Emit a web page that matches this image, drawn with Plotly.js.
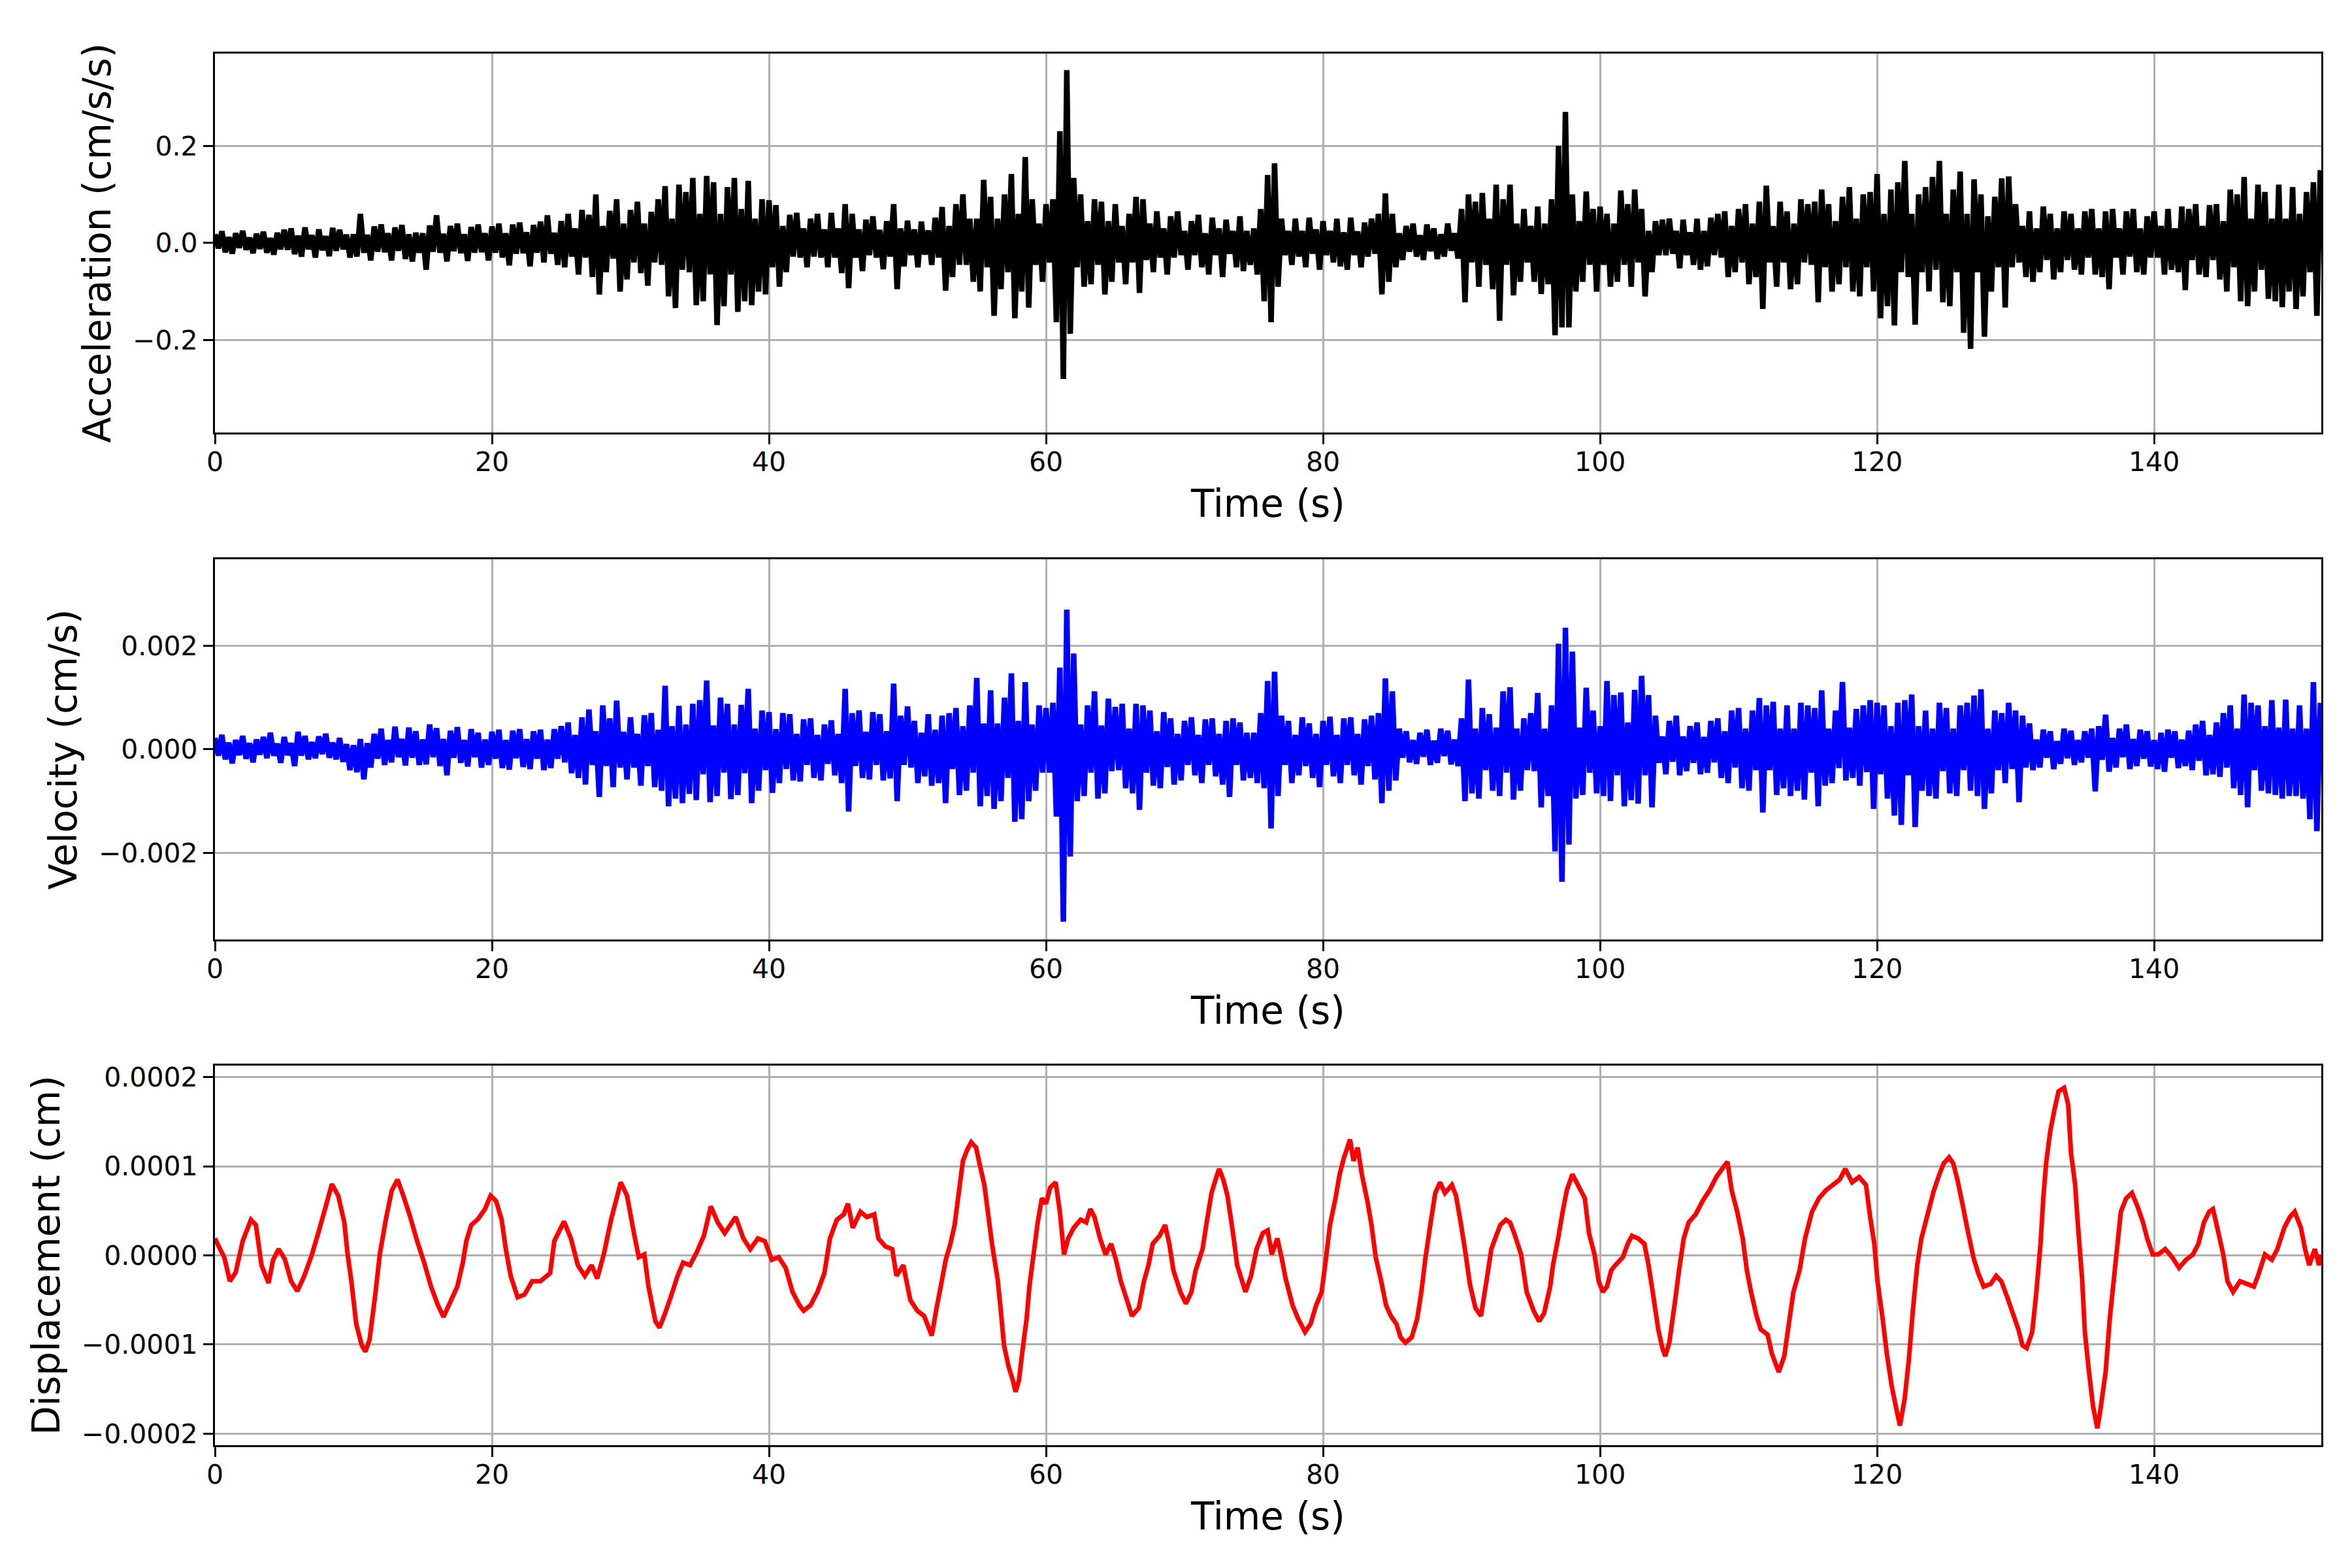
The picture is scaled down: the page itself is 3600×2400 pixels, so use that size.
<!DOCTYPE html>
<html>
<head>
<meta charset="utf-8">
<script src="https://cdn.plot.ly/plotly-3.0.1.min.js"></script>
<style>html,body{margin:0;padding:0;background:#fff;}#chart{width:3600px;height:2400px;}</style>
</head>
<body>
<div id="chart"></div>
<script>
// ---------------- data ----------------
// Sampling interval of the listed acceleration / velocity extremes (s)
const sampleStep = 0.25;

// Acceleration (cm/s/s): alternating local peaks / troughs every 0.25 s
const accelerationValues = [
0.018,-0.011,0.024,-0.019,0.012,-0.022,0.02,-0.01,0.025,-0.014,0.011,-0.021,0.019,-0.012,0.023,-0.02,0.01,-0.024,0.021,-0.013,
0.027,-0.014,0.03,-0.023,0.015,-0.028,0.032,-0.013,0.016,-0.03,0.028,-0.015,0.014,-0.027,0.031,-0.016,0.027,-0.013,0.017,-0.03,
0.018,-0.028,0.06,-0.02,0.017,-0.036,0.034,-0.018,0.038,-0.019,0.02,-0.036,0.032,-0.016,0.037,-0.033,0.018,-0.038,0.021,-0.02,
0.02,-0.055,0.036,-0.018,0.057,-0.02,0.019,-0.038,0.035,-0.017,0.04,-0.021,0.018,-0.037,0.033,-0.02,0.038,-0.019,0.02,-0.036,
0.034,-0.02,0.04,-0.03,0.02,-0.046,0.038,-0.022,0.042,-0.021,0.022,-0.048,0.037,-0.02,0.044,-0.04,0.057,-0.022,0.021,-0.045,
0.045,-0.05,0.06,-0.028,0.03,-0.065,0.068,-0.03,0.058,-0.07,0.1,-0.106,0.035,-0.06,0.066,-0.032,0.09,-0.1,0.04,-0.075,
0.068,-0.04,0.085,-0.062,0.04,-0.088,0.064,-0.04,0.09,-0.045,0.117,-0.11,0.05,-0.134,0.12,-0.055,0.105,-0.06,0.134,-0.128,
0.06,-0.12,0.138,-0.065,0.125,-0.169,0.06,-0.13,0.115,-0.065,0.134,-0.142,0.07,-0.12,0.128,-0.128,0.05,-0.1,0.09,-0.106,
0.088,-0.05,0.078,-0.09,0.035,-0.06,0.058,-0.028,0.062,-0.03,0.03,-0.05,0.05,-0.028,0.06,-0.03,0.028,-0.05,0.062,-0.03,
0.03,-0.062,0.08,-0.093,0.06,-0.03,0.028,-0.058,0.048,-0.025,0.055,-0.03,0.027,-0.054,0.045,-0.028,0.08,-0.095,0.03,-0.048,
0.046,-0.025,0.028,-0.05,0.044,-0.024,0.026,-0.045,0.052,-0.03,0.074,-0.098,0.035,-0.07,0.08,-0.045,0.1,-0.045,0.05,-0.08,
0.05,-0.1,0.13,-0.05,0.095,-0.15,0.05,-0.095,0.1,-0.06,0.142,-0.155,0.06,-0.1,0.177,-0.133,0.09,-0.045,0.04,-0.08,
0.08,-0.04,0.09,-0.163,0.23,-0.28,0.356,-0.187,0.134,-0.05,0.1,-0.09,0.045,-0.085,0.09,-0.045,0.085,-0.106,0.045,-0.08,
0.08,-0.04,0.035,-0.085,0.06,-0.04,0.095,-0.103,0.09,-0.035,0.04,-0.06,0.065,-0.03,0.03,-0.065,0.055,-0.03,0.065,-0.025,
0.025,-0.055,0.045,-0.025,0.058,-0.05,0.02,-0.065,0.052,-0.025,0.03,-0.07,0.048,-0.022,0.025,-0.05,0.055,-0.058,0.025,-0.045,
0.03,-0.065,0.07,-0.12,0.14,-0.163,0.164,-0.09,0.05,-0.025,0.025,-0.045,0.05,-0.028,0.025,-0.05,0.052,-0.022,0.028,-0.055,
0.045,-0.025,0.025,-0.04,0.05,-0.048,0.022,-0.055,0.052,-0.025,0.024,-0.05,0.042,-0.028,0.05,-0.022,0.06,-0.106,0.102,-0.08,
0.06,-0.05,0.02,-0.035,0.035,-0.018,0.04,-0.028,0.016,-0.035,0.038,-0.017,0.03,-0.033,0.018,-0.028,0.04,-0.016,0.02,-0.032,
0.07,-0.122,0.1,-0.04,0.085,-0.09,0.103,-0.045,0.05,-0.095,0.12,-0.16,0.09,-0.045,0.12,-0.108,0.04,-0.08,0.07,-0.04,
0.035,-0.08,0.075,-0.105,0.04,-0.085,0.09,-0.19,0.2,-0.174,0.27,-0.174,0.1,-0.1,0.045,-0.08,0.106,-0.045,0.07,-0.1,
0.075,-0.045,0.06,-0.09,0.04,-0.08,0.108,-0.045,0.08,-0.09,0.11,-0.04,0.07,-0.11,0.025,-0.06,0.045,-0.025,0.048,-0.025,
0.05,-0.022,0.025,-0.052,0.048,-0.025,0.022,-0.045,0.05,-0.055,0.025,-0.048,0.052,-0.025,0.06,-0.03,0.065,-0.07,0.035,-0.06,
0.07,-0.04,0.08,-0.085,0.04,-0.07,0.085,-0.136,0.118,-0.04,0.035,-0.09,0.085,-0.04,0.065,-0.095,0.04,-0.085,0.09,-0.04,
0.08,-0.045,0.085,-0.122,0.11,-0.05,0.08,-0.1,0.045,-0.085,0.095,-0.05,0.115,-0.1,0.05,-0.11,0.1,-0.05,0.105,-0.1,
0.142,-0.155,0.06,-0.13,0.11,-0.17,0.125,-0.06,0.169,-0.07,0.06,-0.168,0.1,-0.06,0.115,-0.1,0.136,-0.055,0.169,-0.122,
0.06,-0.13,0.11,-0.06,0.147,-0.185,0.06,-0.218,0.131,-0.06,0.1,-0.193,0.055,-0.1,0.095,-0.05,0.133,-0.133,0.137,-0.05,
0.08,-0.04,0.035,-0.07,0.065,-0.08,0.03,-0.06,0.075,-0.035,0.06,-0.075,0.03,-0.06,0.065,-0.035,0.06,-0.055,0.03,-0.065,
0.065,-0.03,0.07,-0.065,0.03,-0.07,0.065,-0.095,0.07,-0.03,0.03,-0.065,0.065,-0.028,0.07,-0.06,0.03,-0.065,0.055,-0.03,
0.065,-0.03,0.035,-0.065,0.07,-0.055,0.03,-0.06,0.075,-0.097,0.07,-0.035,0.08,-0.065,0.035,-0.07,0.078,-0.035,0.08,-0.075,
0.045,-0.1,0.11,-0.05,0.1,-0.12,0.136,-0.13,0.05,-0.1,0.12,-0.055,0.105,-0.115,0.05,-0.12,0.12,-0.132,0.05,-0.1,
0.115,-0.136,0.06,-0.11,0.105,-0.06,0.125,-0.15,0.15
];

// Velocity (cm/s): alternating local peaks / troughs every 0.25 s
const velocityValues = [
2.2e-4,-1.2e-4,2.8e-4,-1.9e-4,1.3e-4,-2.7e-4,1.8e-4,-1.1e-4,2.6e-4,-1.8e-4,1.2e-4,-2.5e-4,1.9e-4,-1.0e-4,2.4e-4,-1.7e-4,3.2e-4,-1.2e-4,1.1e-4,-2.6e-4,
2.4e-4,-1.1e-4,1.2e-4,-3.2e-4,3.4e-4,-1.2e-4,2.6e-4,-1.9e-4,1.4e-4,-1.7e-4,2.5e-4,-0.9e-4,3.0e-4,-1.6e-4,1.3e-4,-1.9e-4,2.2e-4,-2.4e-4,1.0e-4,-4.0e-4,
0.8e-4,-4.4e-4,2.0e-4,-5.8e-4,1.2e-4,-3.5e-4,3.0e-4,-1.8e-4,4.0e-4,-3.0e-4,1.8e-4,-2.5e-4,4.4e-4,-1.5e-4,2.0e-4,-3.1e-4,4.2e-4,-1.6e-4,3.5e-4,-3.0e-4,
1.9e-4,-2.9e-4,4.8e-4,-1.5e-4,4.1e-4,-3.2e-4,2.0e-4,-5.0e-4,3.6e-4,-1.6e-4,4.3e-4,-2.6e-4,1.8e-4,-3.3e-4,3.9e-4,-1.5e-4,3.2e-4,-3.5e-4,1.9e-4,-3.0e-4,
3.4e-4,-1.8e-4,3.8e-4,-3.6e-4,1.8e-4,-3.9e-4,3.6e-4,-1.7e-4,3.9e-4,-3.4e-4,2.0e-4,-3.8e-4,3.5e-4,-1.8e-4,3.8e-4,-4.0e-4,1.9e-4,-3.6e-4,3.9e-4,-1.8e-4,
4.5e-4,-2.5e-4,5.2e-4,-4.6e-4,2.8e-4,-5.5e-4,6.2e-4,-6.8e-4,7.7e-4,-3.0e-4,3.5e-4,-9.2e-4,8.5e-4,-3.2e-4,6.0e-4,-7.3e-4,9.4e-4,-3.5e-4,3.4e-4,-5.8e-4,
6.2e-4,-3.5e-4,3.0e-4,-7.0e-4,6.6e-4,-3.2e-4,7.0e-4,-7.3e-4,3.8e-4,-8.0e-4,12.3e-4,-11.0e-4,4.5e-4,-9.5e-4,8.4e-4,-10.4e-4,4.8e-4,-8.6e-4,8.8e-4,-9.8e-4,
9.5e-4,-4.8e-4,13.3e-4,-10.2e-4,4.6e-4,-9.0e-4,10.0e-4,-4.5e-4,8.8e-4,-9.6e-4,4.8e-4,-8.8e-4,8.6e-4,-4.6e-4,11.7e-4,-10.4e-4,4.0e-4,-8.0e-4,7.5e-4,-4.0e-4,
7.2e-4,-8.4e-4,3.9e-4,-6.5e-4,7.0e-4,-3.8e-4,6.8e-4,-6.0e-4,3.0e-4,-6.2e-4,5.8e-4,-3.0e-4,6.0e-4,-5.5e-4,2.8e-4,-6.0e-4,4.8e-4,-2.8e-4,5.6e-4,-5.0e-4,
3.0e-4,-6.5e-4,11.7e-4,-12.0e-4,7.0e-4,-3.2e-4,7.5e-4,-5.5e-4,3.4e-4,-5.8e-4,7.2e-4,-3.0e-4,6.8e-4,-6.0e-4,3.5e-4,-5.6e-4,12.7e-4,-10.0e-4,6.5e-4,-3.0e-4,
8.3e-4,-3.5e-4,5.5e-4,-6.5e-4,3.2e-4,-5.2e-4,6.8e-4,-7.0e-4,3.8e-4,-6.5e-4,6.5e-4,-10.4e-4,7.0e-4,-3.8e-4,8.0e-4,-8.8e-4,4.5e-4,-8.0e-4,8.5e-4,-4.5e-4,
13.8e-4,-11.0e-4,5.0e-4,-9.0e-4,11.4e-4,-11.5e-4,5.0e-4,-10.0e-4,10.0e-4,-5.5e-4,14.7e-4,-14.0e-4,5.5e-4,-13.5e-4,13.0e-4,-10.0e-4,4.8e-4,-8.0e-4,8.5e-4,-4.5e-4,
8.0e-4,-4.5e-4,9.0e-4,-13.0e-4,15.8e-4,-33.3e-4,27.0e-4,-20.7e-4,18.5e-4,-10.0e-4,4.8e-4,-9.0e-4,8.5e-4,-4.5e-4,11.2e-4,-9.5e-4,4.6e-4,-8.5e-4,9.8e-4,-4.2e-4,
8.2e-4,-4.0e-4,8.8e-4,-7.5e-4,4.0e-4,-8.5e-4,8.8e-4,-11.7e-4,8.5e-4,-4.5e-4,7.5e-4,-7.0e-4,3.5e-4,-7.5e-4,7.2e-4,-3.4e-4,6.0e-4,-6.8e-4,3.0e-4,-6.0e-4,
5.5e-4,-3.0e-4,6.2e-4,-5.0e-4,2.8e-4,-6.5e-4,5.8e-4,-3.0e-4,6.0e-4,-5.2e-4,3.0e-4,-6.8e-4,5.5e-4,-9.2e-4,6.0e-4,-3.0e-4,5.2e-4,-6.0e-4,3.2e-4,-5.5e-4,
3.2e-4,-6.5e-4,7.0e-4,-7.5e-4,13.2e-4,-15.3e-4,15.0e-4,-9.0e-4,6.5e-4,-3.0e-4,5.5e-4,-6.5e-4,2.8e-4,-5.0e-4,6.2e-4,-3.2e-4,5.0e-4,-5.5e-4,3.0e-4,-7.3e-4,
5.5e-4,-3.0e-4,6.3e-4,-5.2e-4,2.8e-4,-6.5e-4,6.0e-4,-3.0e-4,6.2e-4,-5.0e-4,3.0e-4,-6.8e-4,5.8e-4,-3.2e-4,6.5e-4,-5.8e-4,7.0e-4,-10.4e-4,13.7e-4,-8.0e-4,
11.2e-4,-6.0e-4,4.0e-4,-1.6e-4,3.5e-4,-2.5e-4,1.8e-4,-2.8e-4,3.2e-4,-1.4e-4,3.8e-4,-3.0e-4,1.7e-4,-2.6e-4,4.0e-4,-1.3e-4,3.6e-4,-2.9e-4,1.9e-4,-3.2e-4,
6.0e-4,-10.0e-4,13.5e-4,-8.5e-4,4.0e-4,-9.5e-4,8.0e-4,-4.0e-4,6.8e-4,-8.0e-4,4.2e-4,-9.0e-4,11.2e-4,-4.5e-4,12.0e-4,-9.7e-4,4.0e-4,-8.0e-4,6.0e-4,-4.0e-4,
7.0e-4,-4.2e-4,10.9e-4,-11.2e-4,4.0e-4,-9.0e-4,8.5e-4,-19.7e-4,20.4e-4,-25.6e-4,23.5e-4,-18.4e-4,18.9e-4,-9.5e-4,4.2e-4,-8.8e-4,11.9e-4,-4.5e-4,7.5e-4,-8.5e-4,
4.5e-4,-9.0e-4,13.2e-4,-10.0e-4,10.5e-4,-5.0e-4,11.0e-4,-11.0e-4,5.2e-4,-9.8e-4,11.5e-4,-10.5e-4,14.2e-4,-5.0e-4,10.5e-4,-11.2e-4,6.5e-4,-2.6e-4,2.5e-4,-4.8e-4,
5.5e-4,-2.4e-4,6.5e-4,-5.0e-4,2.5e-4,-4.2e-4,4.5e-4,-2.6e-4,5.2e-4,-4.8e-4,2.4e-4,-4.5e-4,5.5e-4,-2.5e-4,6.0e-4,-5.5e-4,3.5e-4,-6.5e-4,7.5e-4,-3.5e-4,
8.0e-4,-7.5e-4,4.0e-4,-8.0e-4,7.5e-4,-4.0e-4,9.9e-4,-12.2e-4,8.5e-4,-4.0e-4,9.2e-4,-8.8e-4,4.0e-4,-7.5e-4,8.5e-4,-9.0e-4,4.0e-4,-8.0e-4,9.0e-4,-9.7e-4,
8.5e-4,-4.5e-4,8.0e-4,-11.0e-4,11.4e-4,-7.0e-4,4.0e-4,-6.5e-4,7.5e-4,-3.6e-4,13.0e-4,-6.0e-4,4.2e-4,-5.5e-4,7.8e-4,-7.0e-4,8.5e-4,-4.4e-4,9.5e-4,-11.5e-4,
9.0e-4,-4.8e-4,8.5e-4,-9.5e-4,4.5e-4,-12.8e-4,9.0e-4,-14.6e-4,9.5e-4,-5.0e-4,10.6e-4,-15.0e-4,4.5e-4,-8.0e-4,7.5e-4,-9.0e-4,4.0e-4,-9.5e-4,9.0e-4,-4.2e-4,
8.0e-4,-8.5e-4,4.0e-4,-9.0e-4,8.5e-4,-4.0e-4,9.0e-4,-8.0e-4,10.4e-4,-9.0e-4,11.6e-4,-11.5e-4,4.0e-4,-8.5e-4,7.5e-4,-4.0e-4,7.0e-4,-6.5e-4,9.0e-4,-3.8e-4,
7.5e-4,-10.2e-4,6.5e-4,-3.5e-4,5.0e-4,-4.0e-4,1.9e-4,-3.5e-4,3.8e-4,-1.6e-4,3.5e-4,-3.8e-4,1.6e-4,-2.8e-4,4.0e-4,-1.7e-4,3.6e-4,-3.0e-4,1.8e-4,-2.5e-4,
3.5e-4,-1.6e-4,4.0e-4,-8.1e-4,4.5e-4,-2.0e-4,6.7e-4,-4.3e-4,2.2e-4,-3.5e-4,4.0e-4,-1.5e-4,4.8e-4,-3.8e-4,2.0e-4,-3.2e-4,3.8e-4,-1.8e-4,3.5e-4,-3.3e-4,
1.8e-4,-3.8e-4,3.2e-4,-4.3e-4,3.8e-4,-1.6e-4,3.5e-4,-3.6e-4,1.9e-4,-3.2e-4,3.6e-4,-4.0e-4,4.8e-4,-2.2e-4,5.5e-4,-5.0e-4,2.8e-4,-4.8e-4,5.2e-4,-5.3e-4,
7.0e-4,-3.5e-4,8.5e-4,-7.5e-4,4.0e-4,-8.8e-4,10.6e-4,-11.2e-4,9.0e-4,-4.0e-4,8.5e-4,-8.0e-4,4.5e-4,-8.5e-4,9.5e-4,-8.8e-4,4.2e-4,-9.5e-4,9.6e-4,-9.0e-4,
4.0e-4,-9.0e-4,8.5e-4,-9.5e-4,4.0e-4,-13.5e-4,13.0e-4,-15.8e-4,9.0e-4
];

// Displacement (cm): time (s) and value pairs
const displacementTime = [
0,0.34,0.67,1.08,1.5,2.0,2.6,2.96,3.36,3.87,4.2,4.6,5.04,5.5,5.95,6.45,7.0,7.46,8.0,8.44,8.9,9.34,9.58,9.85,10.2,10.6,10.86,11.16,11.6,11.9,
12.37,12.77,13.18,13.6,14.1,14.6,15.1,15.6,16.1,16.5,16.97,17.5,17.9,18.15,18.5,19.0,19.5,19.9,20.3,20.7,21.0,21.35,21.85,22.35,22.9,23.5,24.2,24.5,25.2,25.7,
26.2,26.7,27.2,27.6,28.07,28.6,29.0,29.3,29.75,30.25,30.6,31.0,31.3,31.8,32.1,32.5,32.9,33.4,33.8,34.3,34.8,35.3,35.8,36.3,36.8,37.6,38.15,38.65,39.2,39.7,
40.2,40.7,41.2,41.7,42.2,42.5,43.0,43.5,44.0,44.4,44.9,45.4,45.7,46.05,46.6,47.06,47.6,47.9,48.4,48.9,49.2,49.7,50.2,50.7,51.2,51.75,52.1,52.4,52.76,53.1,
53.4,53.7,54.0,54.3,54.6,54.95,55.2,55.55,55.8,56.1,56.5,56.7,56.97,57.3,57.6,57.8,58.05,58.3,58.6,58.8,59.1,59.4,59.7,60.0,60.3,60.7,61.0,61.3,61.6,62.0,
62.5,62.9,63.2,63.5,63.9,64.3,64.7,65.05,65.4,65.9,66.2,66.7,67.07,67.4,67.7,68.2,68.6,68.9,69.2,69.7,70.1,70.5,70.8,71.3,71.6,71.95,72.3,72.5,72.8,73.1,
73.5,73.8,74.1,74.4,74.8,75.2,75.65,76.0,76.3,76.7,77.0,77.3,77.8,78.2,78.7,79.1,79.5,79.9,80.2,80.5,80.9,81.2,81.5,81.95,82.2,82.5,82.8,83.2,83.5,83.8,
84.2,84.55,84.9,85.3,85.6,85.95,86.4,86.8,87.1,87.4,87.8,88.1,88.45,88.8,89.3,89.6,89.97,90.3,90.6,91.0,91.4,91.8,92.15,92.5,92.8,93.2,93.5,93.8,94.3,94.7,
95.2,95.6,95.96,96.4,96.6,96.97,97.3,97.6,98.0,98.4,98.9,99.2,99.6,99.9,100.2,100.5,100.8,101.1,101.65,102.0,102.3,102.75,103.2,103.5,103.8,104.2,104.5,104.7,105.0,105.4,
105.7,106.04,106.4,106.9,107.4,107.9,108.4,108.9,109.2,109.5,109.9,110.3,110.6,110.9,111.3,111.6,112.1,112.4,112.9,113.3,113.6,113.96,114.4,114.8,115.3,115.8,116.3,116.8,117.3,117.7,
118.2,118.7,119.2,119.5,119.8,120.03,120.4,120.7,121.05,121.4,121.65,121.99,122.3,122.6,122.9,123.2,123.7,124.1,124.5,124.8,125.2,125.5,125.8,126.2,126.5,126.95,127.3,127.7,128.2,128.6,
128.97,129.4,129.8,130.2,130.5,130.8,131.2,131.5,131.8,132.0,132.2,132.5,132.8,133.1,133.5,133.8,134.0,134.3,134.5,134.8,135.0,135.3,135.6,135.9,136.1,136.5,136.8,137.2,137.4,137.6,
137.98,138.4,138.8,139.2,139.5,139.9,140.3,140.8,141.3,141.8,142.3,142.8,143.2,143.6,143.98,144.25,144.65,144.99,145.3,145.7,146.2,146.7,147.2,147.5,148.0,148.5,148.9,149.4,149.8,150.15,
150.6,150.9,151.2,151.6,151.9,152.0
];
const displacementValues = [
0.19e-4,0.08e-4,-0.02e-4,-0.29e-4,-0.19e-4,0.16e-4,0.40e-4,0.34e-4,-0.11e-4,-0.31e-4,-0.05e-4,0.07e-4,-0.04e-4,-0.29e-4,-0.40e-4,-0.23e-4,0.01e-4,0.25e-4,0.55e-4,0.80e-4,0.67e-4,0.37e-4,0.01e-4,-0.29e-4,-0.77e-4,-1.01e-4,-1.08e-4,-0.95e-4,-0.41e-4,0.01e-4,
0.43e-4,0.73e-4,0.85e-4,0.67e-4,0.43e-4,0.16e-4,-0.08e-4,-0.35e-4,-0.56e-4,-0.69e-4,-0.53e-4,-0.35e-4,-0.08e-4,0.16e-4,0.34e-4,0.41e-4,0.52e-4,0.67e-4,0.61e-4,0.40e-4,0.07e-4,-0.23e-4,-0.47e-4,-0.44e-4,-0.29e-4,-0.29e-4,-0.20e-4,0.16e-4,0.38e-4,0.19e-4,
-0.11e-4,-0.23e-4,-0.11e-4,-0.26e-4,0.01e-4,0.40e-4,0.64e-4,0.82e-4,0.67e-4,0.25e-4,-0.02e-4,0.01e-4,-0.35e-4,-0.74e-4,-0.81e-4,-0.65e-4,-0.47e-4,-0.23e-4,-0.08e-4,-0.11e-4,0.04e-4,0.22e-4,0.55e-4,0.37e-4,0.25e-4,0.43e-4,0.19e-4,0.07e-4,0.19e-4,0.16e-4,
-0.05e-4,-0.02e-4,-0.14e-4,-0.41e-4,-0.56e-4,-0.62e-4,-0.56e-4,-0.41e-4,-0.20e-4,0.19e-4,0.40e-4,0.46e-4,0.58e-4,0.31e-4,0.49e-4,0.43e-4,0.46e-4,0.19e-4,0.10e-4,0.07e-4,-0.23e-4,-0.11e-4,-0.50e-4,-0.62e-4,-0.68e-4,-0.90e-4,-0.59e-4,-0.35e-4,-0.05e-4,0.13e-4,
0.34e-4,0.70e-4,1.06e-4,1.18e-4,1.27e-4,1.21e-4,1.03e-4,0.79e-4,0.49e-4,0.13e-4,-0.26e-4,-0.56e-4,-1.01e-4,-1.25e-4,-1.40e-4,-1.53e-4,-1.40e-4,-1.07e-4,-0.71e-4,-0.35e-4,0.01e-4,0.37e-4,0.64e-4,0.58e-4,0.76e-4,0.82e-4,0.49e-4,0.01e-4,0.19e-4,0.31e-4,
0.40e-4,0.37e-4,0.52e-4,0.43e-4,0.19e-4,0.01e-4,0.13e-4,-0.05e-4,-0.29e-4,-0.53e-4,-0.68e-4,-0.59e-4,-0.29e-4,-0.11e-4,0.13e-4,0.22e-4,0.34e-4,0.13e-4,-0.17e-4,-0.41e-4,-0.54e-4,-0.41e-4,-0.17e-4,0.07e-4,0.37e-4,0.70e-4,0.88e-4,0.97e-4,0.85e-4,0.67e-4,
0.25e-4,-0.11e-4,-0.26e-4,-0.41e-4,-0.23e-4,0.07e-4,0.25e-4,0.28e-4,0.01e-4,0.19e-4,-0.02e-4,-0.26e-4,-0.56e-4,-0.71e-4,-0.86e-4,-0.77e-4,-0.56e-4,-0.41e-4,-0.05e-4,0.34e-4,0.64e-4,0.91e-4,1.09e-4,1.30e-4,1.06e-4,1.21e-4,0.91e-4,0.61e-4,0.34e-4,-0.02e-4,
-0.29e-4,-0.56e-4,-0.68e-4,-0.77e-4,-0.92e-4,-0.98e-4,-0.92e-4,-0.71e-4,-0.41e-4,-0.02e-4,0.40e-4,0.70e-4,0.82e-4,0.70e-4,0.79e-4,0.67e-4,0.34e-4,0.01e-4,-0.32e-4,-0.59e-4,-0.68e-4,-0.29e-4,0.07e-4,0.22e-4,0.34e-4,0.40e-4,0.37e-4,0.25e-4,0.01e-4,-0.41e-4,
-0.62e-4,-0.74e-4,-0.65e-4,-0.35e-4,-0.11e-4,0.19e-4,0.49e-4,0.73e-4,0.91e-4,0.79e-4,0.64e-4,0.25e-4,0.01e-4,-0.29e-4,-0.41e-4,-0.35e-4,-0.17e-4,-0.11e-4,-0.02e-4,0.13e-4,0.22e-4,0.19e-4,0.13e-4,-0.11e-4,-0.41e-4,-0.83e-4,-1.04e-4,-1.13e-4,-0.98e-4,-0.53e-4,
-0.17e-4,0.19e-4,0.37e-4,0.46e-4,0.61e-4,0.73e-4,0.88e-4,0.99e-4,1.05e-4,0.73e-4,0.49e-4,0.19e-4,-0.17e-4,-0.41e-4,-0.68e-4,-0.83e-4,-0.89e-4,-1.10e-4,-1.31e-4,-1.13e-4,-0.80e-4,-0.41e-4,-0.17e-4,0.19e-4,0.49e-4,0.64e-4,0.73e-4,0.79e-4,0.85e-4,0.97e-4,
0.82e-4,0.88e-4,0.79e-4,0.43e-4,0.13e-4,-0.29e-4,-0.71e-4,-1.10e-4,-1.46e-4,-1.73e-4,-1.91e-4,-1.61e-4,-1.16e-4,-0.59e-4,-0.11e-4,0.19e-4,0.49e-4,0.73e-4,0.91e-4,1.03e-4,1.10e-4,1.03e-4,0.85e-4,0.55e-4,0.31e-4,-0.02e-4,-0.20e-4,-0.35e-4,-0.32e-4,-0.23e-4,
-0.29e-4,-0.47e-4,-0.65e-4,-0.83e-4,-1.01e-4,-1.04e-4,-0.86e-4,-0.41e-4,0.13e-4,0.64e-4,1.03e-4,1.39e-4,1.63e-4,1.84e-4,1.88e-4,1.69e-4,1.15e-4,0.79e-4,0.34e-4,-0.26e-4,-0.86e-4,-1.31e-4,-1.70e-4,-1.94e-4,-1.76e-4,-1.31e-4,-0.71e-4,-0.11e-4,0.19e-4,0.49e-4,
0.64e-4,0.70e-4,0.55e-4,0.37e-4,0.19e-4,0.01e-4,0.01e-4,0.07e-4,-0.02e-4,-0.14e-4,-0.05e-4,0.01e-4,0.13e-4,0.37e-4,0.49e-4,0.52e-4,0.25e-4,0.01e-4,-0.29e-4,-0.41e-4,-0.29e-4,-0.32e-4,-0.35e-4,-0.23e-4,0.01e-4,-0.05e-4,0.07e-4,0.31e-4,0.43e-4,0.49e-4,
0.31e-4,0.07e-4,-0.11e-4,0.07e-4,-0.11e-4,0.01e-4
];

// Axis tick values and labels
const timeTicks = [0, 20, 40, 60, 80, 100, 120, 140];
const timeRange = [0, 152.07];
const accelerationTicks = [-0.2, 0, 0.2];
const accelerationRange = [-0.39, 0.39];
const velocityTicks = [-0.002, 0, 0.002];
const velocityRange = [-0.00367, 0.00367];
const displacementTicks = [-0.0002, -0.0001, 0, 0.0001, 0.0002];
const displacementRange = [-0.000213, 0.000213];

// ---------------- chart ----------------
const accelerationTime = accelerationValues.map((_, i) => i * sampleStep);
const velocityTime = velocityValues.map((_, i) => i * sampleStep);

const FONT = 'DejaVu Sans, Liberation Sans, sans-serif';
const tickFont = {family: FONT, size: 41, color: '#000'};
const labelFont = {family: FONT, size: 58, color: '#000'};

function xAxis(anchor) {
  return {
    anchor: anchor, domain: [0, 1], range: timeRange, tickvals: timeTicks,
    ticks: 'outside', ticklen: 15, tickwidth: 3.3, tickcolor: '#000',
    ticklabelstandoff: -8,
    showline: true, linecolor: '#000', linewidth: 3.3, mirror: true,
    showgrid: true, gridcolor: '#b0b0b0', gridwidth: 3.3, zeroline: false,
    tickfont: tickFont,
    title: {text: 'Time (s)', font: labelFont, standoff: 21}
  };
}
function yAxis(anchor, domain, range, tickvals, fmt, title) {
  return {
    anchor: anchor, domain: domain, range: range, tickvals: tickvals, tickformat: fmt,
    ticks: 'outside', ticklen: 15, tickwidth: 3.3, tickcolor: '#000',
    showline: true, linecolor: '#000', linewidth: 3.3, mirror: true,
    showgrid: true, gridcolor: '#b0b0b0', gridwidth: 3.3, zeroline: false,
    tickfont: tickFont,
    title: {text: title, font: labelFont, standoff: 15}
  };
}

const traces = [
  {type: 'scatter', mode: 'lines', x: accelerationTime, y: accelerationValues, xaxis: 'x', yaxis: 'y',
   line: {color: '#000000', width: 8.5, simplify: false}, hoverinfo: 'skip'},
  {type: 'scatter', mode: 'lines', x: velocityTime, y: velocityValues, xaxis: 'x2', yaxis: 'y2',
   line: {color: '#0000ff', width: 8.5, simplify: false}, hoverinfo: 'skip'},
  {type: 'scatter', mode: 'lines', x: displacementTime, y: displacementValues, xaxis: 'x3', yaxis: 'y3',
   line: {color: '#ff0000', width: 7, simplify: false}, hoverinfo: 'skip'}
];

const layout = {
  width: 3600, height: 2400,
  margin: {l: 329, r: 47, t: 82, b: 188, autoexpand: false},
  paper_bgcolor: '#ffffff', plot_bgcolor: '#ffffff',
  showlegend: false, hovermode: false,
  font: {family: FONT, color: '#000'},
  xaxis: xAxis('y'),
  yaxis: yAxis('x', [0.7278, 1.0], accelerationRange, accelerationTicks, '.1f', 'Acceleration (cm/s/s)'),
  xaxis2: xAxis('y2'),
  yaxis2: yAxis('x2', [0.3635, 0.6365], velocityRange, velocityTicks, '.3f', 'Velocity (cm/s)'),
  xaxis3: xAxis('y3'),
  yaxis3: yAxis('x3', [0.0, 0.2728], displacementRange, displacementTicks, '.4f', 'Displacement (cm)')
};

Plotly.newPlot('chart', traces, layout, {displayModeBar: false, responsive: false});
</script>
</body>
</html>
